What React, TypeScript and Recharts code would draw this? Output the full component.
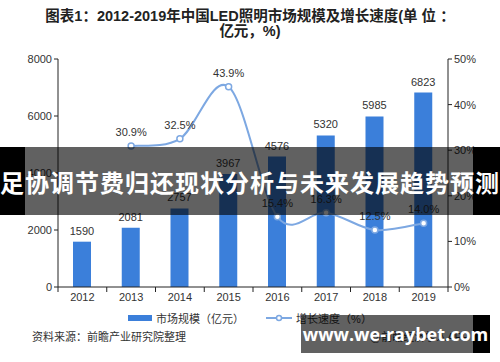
import {
  ComposedChart, Bar, Line, XAxis, YAxis, LabelList
} from "recharts";

const years = ["2012", "2013", "2014", "2015", "2016", "2017", "2018", "2019"];
const marketSize = [1590, 2081, 2757, 3967, 4576, 5320, 5985, 6823];
const growthRate: (number | null)[] = [null, 30.9, 32.5, 43.9, 15.4, 16.3, 12.5, 14.0];
const leftTicks = [0, 2000, 4000, 6000, 8000];
const rightTicks = [0, 10, 20, 30, 40, 50];

const data = years.map((y, i) => ({
  year: y,
  size: marketSize[i],
  rate: growthRate[i],
}));

const FONT = '"Liberation Sans", "Noto Sans CJK SC", sans-serif';
const BAR = "#3B7FDA";
const LINE = "#7DA8E2";

// excel-style smoothing (catmull-rom through every point)
const smooth = (context: any) => {
  let pts: number[][] = [];
  return {
    areaStart() {},
    areaEnd() {},
    lineStart() { pts = []; },
    point(x: number, y: number) { pts.push([+x, +y]); },
    lineEnd() {
      if (!pts.length) return;
      context.moveTo(pts[0][0], pts[0][1]);
      for (let i = 0; i < pts.length - 1; i++) {
        const p0 = pts[Math.max(i - 1, 0)];
        const p1 = pts[i];
        const p2 = pts[i + 1];
        const p3 = pts[Math.min(i + 2, pts.length - 1)];
        context.bezierCurveTo(
          p1[0] + (p2[0] - p0[0]) / 6, p1[1] + (p2[1] - p0[1]) / 6,
          p2[0] - (p3[0] - p1[0]) / 6, p2[1] - (p3[1] - p1[1]) / 6,
          p2[0], p2[1]
        );
      }
    },
  };
};

const XTick = (props: any) => {
  const { x, y, payload, index } = props;
  const off = payload.offset || 0;
  return (
    <g>
      <line x1={x - off} y1={y - 8} x2={x - off} y2={y - 3} stroke="#222" />
      {index === years.length - 1 && (
        <line x1={x + off} y1={y - 8} x2={x + off} y2={y - 3} stroke="#222" />
      )}
      <text x={x} y={y + 6} textAnchor="middle" fontSize={11} fill="#333" fontFamily={FONT}>
        {payload.value}
      </text>
    </g>
  );
};

export default function App() {
  return (
    <div style={{ position: "fixed", left: 0, top: 0, width: 500, height: 362, background: "#fff", fontFamily: FONT, overflow: "hidden" }}>
      <div style={{ position: "absolute", top: 9, left: 0, width: 500, textAlign: "center", fontWeight: "bold", fontSize: 14.5, lineHeight: "15px", color: "#222" }}>
        图表1：2012-2019年中国LED照明市场规模及增长速度(单 位 ：<br />亿元，%)
      </div>

      <div style={{ position: "absolute", left: 0, top: 0 }}>
        <ComposedChart
          width={500}
          height={362}
          data={data}
          margin={{ top: 59, right: 0, left: 0, bottom: 45 }}
        >
          <XAxis
            dataKey="year"
            height={30}
            axisLine={{ stroke: "#222" }}
            tickLine={false}
            tick={<XTick />}
            interval={0}
          />
          <YAxis
            yAxisId="left"
            width={58}
            domain={[0, 8000]}
            ticks={leftTicks}
            axisLine={{ stroke: "#222" }}
            tickLine={{ stroke: "#222" }}
            tickSize={4}
            tick={{ fontSize: 11, fill: "#333", fontFamily: FONT }}
          />
          <YAxis
            yAxisId="right"
            orientation="right"
            width={52}
            domain={[0, 50]}
            ticks={rightTicks}
            tickFormatter={(v) => `${v}%`}
            axisLine={{ stroke: "#222" }}
            tickLine={{ stroke: "#222" }}
            tickSize={4}
            tick={{ fontSize: 11, fill: "#333", fontFamily: FONT }}
          />
          <Bar yAxisId="left" dataKey="size" fill={BAR} barSize={18} isAnimationActive={false}>
            <LabelList dataKey="size" position="top" offset={7} fontSize={11} fill="#333" fontFamily={FONT} />
          </Bar>
          <Line
            yAxisId="right"
            type={smooth as any}
            dataKey="rate"
            stroke={LINE}
            strokeWidth={2}
            dot={{ r: 3, fill: "#fff", stroke: LINE, strokeWidth: 1.5 }}
            connectNulls
            isAnimationActive={false}
          >
            <LabelList
              dataKey="rate"
              position="top"
              offset={10}
              fontSize={11}
              fill="#333"
              fontFamily={FONT}
              formatter={(v: any) => (v == null ? "" : `${Number(v).toFixed(1)}%`)}
            />
          </Line>
        </ComposedChart>
      </div>

      <div style={{ position: "absolute", top: 310, left: 0, width: 500, display: "flex", justifyContent: "center", alignItems: "center", fontSize: 11, color: "#333" }}>
        <span style={{ display: "inline-block", width: 24, height: 6, background: BAR, marginRight: 4 }} />
        <span style={{ marginRight: 22 }}>市场规模（亿元）</span>
        <svg width={26} height={8} style={{ marginRight: 4 }}>
          <line x1={0} y1={4} x2={26} y2={4} stroke={LINE} strokeWidth={2} />
          <circle cx={13} cy={4} r={2.5} fill="#fff" stroke={LINE} strokeWidth={1.5} />
        </svg>
        <span>增长速度（%）</span>
      </div>

      <div style={{ position: "absolute", top: 328, left: 32, fontSize: 11, color: "#333" }}>
        资料来源：前瞻产业研究院整理
      </div>
      <div style={{ position: "absolute", top: 328, left: 370, fontSize: 11, color: "#333" }}>
        @前瞻经济学人APP
      </div>

      <div style={{ position: "absolute", top: 147, left: 0, width: 25, height: 68, background: "#000" }} />
      <div style={{ position: "absolute", top: 147, left: 25, width: 448, height: 68, background: "rgba(0,0,0,0.62)" }} />
      <div style={{ position: "absolute", top: 147, left: 473, width: 27, height: 68, background: "#000" }} />
      <div style={{ position: "absolute", top: 147, left: 0, width: 500, height: 68, display: "flex", alignItems: "center", justifyContent: "center", color: "#fff", fontWeight: "bold", fontSize: 24, fontFamily: '"Noto Sans CJK SC", sans-serif', whiteSpace: "nowrap", letterSpacing: 1 }}>
        足协调节费归还现状分析与未来发展趋势预测
      </div>

      <div style={{ position: "absolute", top: 315, left: 301, width: 172, height: 38, background: "rgba(0,0,0,0.62)" }} />
      <div style={{ position: "absolute", top: 315, left: 473, width: 17, height: 38, background: "#000" }} />
      <div style={{ position: "absolute", top: 315, left: 301, width: 189, height: 38, display: "flex", alignItems: "center", justifyContent: "center", color: "#fff", fontWeight: "bold", fontSize: 18, fontFamily: '"Open Sans", "DejaVu Sans", sans-serif', whiteSpace: "nowrap" }}>
        www.we-raybet.com
      </div>
    </div>
  );
}
